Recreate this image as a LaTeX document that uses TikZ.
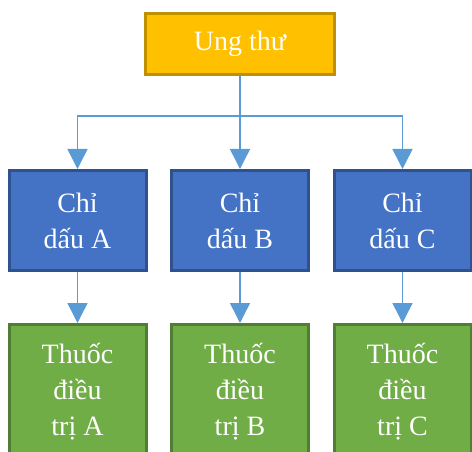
\documentclass[tikz,border=0pt]{standalone}
\usepackage{fontspec}
\setmainfont{Liberation Serif}
\usetikzlibrary{positioning,arrows.meta}

\definecolor{goldfill}{HTML}{FFC000}
\definecolor{golddraw}{HTML}{BF9000}
\definecolor{bluefill}{HTML}{4472C4}
\definecolor{bluedraw}{HTML}{2F528F}
\definecolor{greenfill}{HTML}{70AD47}
\definecolor{greendraw}{HTML}{507E32}
\definecolor{linkblue}{HTML}{5B9BD5}

\begin{document}
\begin{tikzpicture}[
    x=1pt, y=-1pt,
    node distance=22.5pt,
    box/.style={rectangle, align=center, text=white, line width=3pt, font=\fontsize{28}{36}\selectfont},
    disease/.style={box, minimum width=189pt, minimum height=61pt, draw=golddraw, fill=goldfill},
    marker/.style={box, minimum width=137pt, minimum height=100pt, draw=bluedraw, fill=bluefill},
    drug/.style={box, minimum width=137pt, minimum height=135pt, draw=greendraw, fill=greenfill},
    link/.style={draw=linkblue, line width=1.5pt},
    arrow/.style={link, -{Triangle[width=20pt,length=20pt]}}
]

\useasboundingbox (0,0) rectangle (472,452);
\clip (0,0) rectangle (472,452);

% Root
\node[disease] (cancer) at (240,44) {Ung thư};

% Markers
\node[marker, below=93pt of cancer] (markerB) {Chỉ\\dấu B};
\node[marker, left=of markerB] (markerA) {Chỉ\\dấu A};
\node[marker, right=of markerB] (markerC) {Chỉ\\dấu C};

% Treatments
\node[drug, below=51pt of markerA] (drugA) {Thuốc\\điều\\trị A};
\node[drug, below=51pt of markerB] (drugB) {Thuốc\\điều\\trị B};
\node[drug, below=51pt of markerC] (drugC) {Thuốc\\điều\\trị C};

% Arrows
\draw[link] (cancer.south) -- ++(0,40) coordinate (fork);
\draw[arrow] (fork) -| (markerA.north);
\draw[arrow] (fork) -- (markerB.north);
\draw[arrow] (fork) -| (markerC.north);
\draw[arrow] (markerA) -- (drugA);
\draw[arrow] (markerB) -- (drugB);
\draw[arrow] (markerC) -- (drugC);

\end{tikzpicture}
\end{document}
